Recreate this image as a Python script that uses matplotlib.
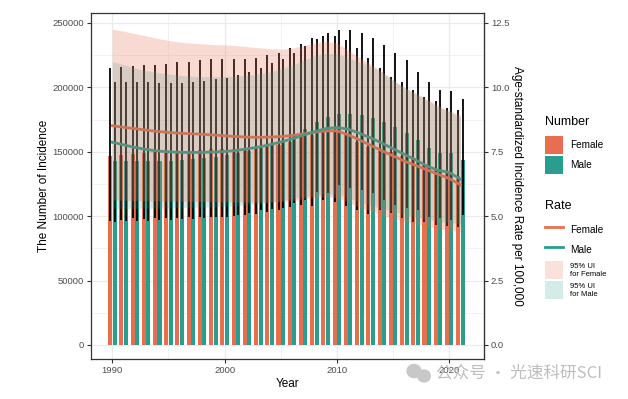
import matplotlib
matplotlib.use("Agg")
import numpy as np
from matplotlib import pyplot as plt
from matplotlib.patches import Patch, Ellipse
from matplotlib.lines import Line2D

plt.rcParams['font.family'] = ['Liberation Sans', 'DejaVu Sans']

# ---- data ----
years = list(range(1990, 2022))

# incidence numbers (bars) with 95% UI (error bars)
female_num = [146700, 147500, 148300, 149300, 150000, 150000, 150500, 150900, 151400, 152000,
              152000, 152400, 153200, 154000, 154700, 155500, 157900, 161700, 163000, 166000,
              167000, 163000, 157400, 153500, 152000, 150000, 146700, 145000, 139800, 135900,
              133300, 131400]
female_num_lo = [96500, 97000, 98300, 97500, 98800, 98800, 98800, 99000, 99000, 99000,
                 99600, 100000, 100700, 102000, 103500, 104800, 107400, 108700, 108000, 112600,
                 111000, 108000, 104800, 102000, 104800, 102500, 98300, 95700, 95700, 93200,
                 92400, 91800]
female_num_hi = [215300, 215800, 216600, 217000, 217400, 218000, 219500, 220000, 221000, 221800,
                 222300, 221800, 221800, 223000, 225000, 227000, 230400, 234000, 238000, 240000,
                 240000, 236500, 230400, 222600, 214800, 208300, 204000, 198000, 192500, 189400,
                 184000, 182500]

male_num = [142900, 142900, 142900, 142900, 142900, 142900, 143600, 144200, 145000, 146200,
            147300, 148800, 150600, 153200, 156600, 159400, 163500, 167700, 172900, 176800,
            179300, 179300, 178600, 176000, 172900, 169500, 164800, 159200, 153200, 149300,
            149300, 143600]
male_num_lo = [95700, 96500, 96500, 96500, 97000, 97000, 97500, 97500, 98300, 99600,
               99600, 101200, 102700, 104800, 105500, 106000, 110500, 112600, 119000, 117800,
               124000, 121600, 120000, 118000, 112600, 108700, 106300, 104800, 99600, 98300,
               97000, 100900]
male_num_hi = [204200, 204000, 204000, 204000, 203400, 203000, 203000, 204000, 205000, 206500,
               207300, 209600, 212000, 215000, 218700, 221800, 226500, 232000, 237300, 242000,
               244300, 244300, 242000, 238000, 232600, 227000, 221000, 212000, 204400, 198000,
               197200, 191000]

# age-standardized incidence rate per 100,000 with 95% UI
female_rate = [8.51, 8.45, 8.40, 8.34, 8.29, 8.25, 8.22, 8.20, 8.18, 8.15,
               8.12, 8.09, 8.07, 8.06, 8.07, 8.09, 8.13, 8.19, 8.26, 8.31,
               8.31, 8.16, 7.96, 7.75, 7.54, 7.34, 7.14, 6.97, 6.80, 6.63,
               6.46, 6.22]
female_rate_lo = [5.63, 5.62, 5.61, 5.60, 5.60, 5.59, 5.58, 5.57, 5.57, 5.56,
                  5.56, 5.55, 5.55, 5.55, 5.55, 5.56, 5.60, 5.66, 5.72, 5.76,
                  5.72, 5.55, 5.35, 5.20, 5.05, 4.92, 4.80, 4.70, 4.60, 4.52,
                  4.45, 4.40]
female_rate_hi = [12.26, 12.18, 12.09, 12.00, 11.90, 11.82, 11.76, 11.72, 11.69, 11.66,
                  11.65, 11.62, 11.58, 11.54, 11.50, 11.48, 11.52, 11.62, 11.72, 11.79,
                  11.72, 11.45, 11.15, 10.90, 10.60, 10.25, 9.98, 9.78, 9.55, 9.30,
                  9.08, 8.93]

male_rate = [7.87, 7.77, 7.67, 7.59, 7.53, 7.50, 7.48, 7.47, 7.48, 7.49,
             7.51, 7.55, 7.61, 7.68, 7.77, 7.88, 8.00, 8.14, 8.28, 8.40,
             8.44, 8.38, 8.22, 8.04, 7.84, 7.62, 7.40, 7.19, 6.95, 6.78,
             6.70, 6.44]
male_rate_lo = [5.30, 5.30, 5.30, 5.31, 5.31, 5.32, 5.33, 5.34, 5.35, 5.36,
                5.38, 5.40, 5.44, 5.48, 5.53, 5.60, 5.68, 5.75, 5.82, 5.86,
                5.85, 5.72, 5.56, 5.42, 5.30, 5.18, 5.08, 4.98, 4.88, 4.80,
                4.75, 4.70]
male_rate_hi = [11.00, 10.88, 10.75, 10.65, 10.58, 10.52, 10.47, 10.43, 10.42, 10.42,
                10.42, 10.44, 10.47, 10.52, 10.60, 10.72, 10.85, 11.05, 11.22, 11.32,
                11.30, 11.15, 10.98, 10.82, 10.60, 10.30, 10.00, 9.75, 9.50, 9.25,
                9.05, 8.86]

scale = 20000  # rate -> number axis
col_f = '#E76F51'
col_m = '#2A9D8F'

yrs = np.array(years)
off, bw = 0.2, 0.36

fig = plt.figure(figsize=(6.28, 3.99), dpi=100)
ax = fig.add_axes([0.1449, 0.1003, 0.6258, 0.8664])

ax.bar(yrs - off, female_num, width=bw, color=col_f, zorder=2)
ax.bar(yrs + off, male_num, width=bw, color=col_m, zorder=2)

ax.vlines(yrs - off, female_num_lo, female_num_hi, color='black', lw=1.3, zorder=3)
ax.vlines(yrs + off, male_num_lo, male_num_hi, color='black', lw=1.3, zorder=3)
# rate error bars left unscaled on the number axis (appear as dots at 0)
ax.vlines(yrs - off, female_rate_lo, female_rate_hi, color='black', lw=1.6, zorder=3)
ax.vlines(yrs + off, male_rate_lo, male_rate_hi, color='black', lw=1.6, zorder=3)

ax.plot(yrs, np.array(female_rate) * scale, color=col_f, lw=2.0, zorder=4)
ax.plot(yrs, np.array(male_rate) * scale, color=col_m, lw=2.0, zorder=4)

ax.fill_between(yrs, np.array(male_rate_lo) * scale, np.array(male_rate_hi) * scale,
                color=col_m, alpha=0.2, lw=0, zorder=5)
ax.fill_between(yrs, np.array(female_rate_lo) * scale, np.array(female_rate_hi) * scale,
                color=col_f, alpha=0.25, lw=0, zorder=5)

ax.set_xlim(1988.1, 2023.1)
ax.set_ylim(-10870, 257500)
ax.set_xticks([1990, 2000, 2010, 2020])
ax.set_xticks([1995, 2005, 2015], minor=True)
ax.set_yticks(np.arange(0, 250001, 50000))
ax.set_yticks(np.arange(25000, 250000, 50000), minor=True)
ax.grid(True, which='major', color='#EBEBEB', lw=0.9, zorder=0)
ax.grid(True, which='minor', color='#EBEBEB', lw=0.45, zorder=0)
ax.set_axisbelow(True)
ax.tick_params(which='major', length=3, width=0.8, color='#333333',
               labelsize=6.8, labelcolor='#4D4D4D', pad=2)
ax.tick_params(which='minor', length=0)
for s in ax.spines.values():
    s.set_color('#333333')
    s.set_linewidth(0.9)
ax.set_xlabel('Year', fontsize=8.5, labelpad=2)
ax.set_ylabel('The Number of Incidence', fontsize=8.5, labelpad=2)

sec = ax.secondary_yaxis('right', functions=(lambda v: v / scale, lambda v: v * scale))
sec.set_yticks([0, 2.5, 5, 7.5, 10, 12.5])
sec.set_yticklabels(['0.0', '2.5', '5.0', '7.5', '10.0', '12.5'])
sec.tick_params(length=3, width=0.8, color='#333333', labelsize=6.8,
                labelcolor='#4D4D4D', pad=2)
sec.spines['right'].set_color('#333333')
sec.set_ylabel('Age-standardized Incidence Rate per 100,000', fontsize=8.5,
               rotation=-90, labelpad=10)

# legends (titles drawn as separate texts for exact spacing)
leg_kw = dict(loc='upper left', frameon=False, fontsize=7.2, handlelength=1.8,
              handleheight=2.4, labelspacing=0.2, borderpad=0, handletextpad=0.75)

fig.text(545 / 628, 1 - 122 / 399, 'Number', fontsize=9, va='center', ha='left')
num_handles = [Patch(color=col_f, lw=0), Patch(color=col_m, lw=0)]
fig.legend(num_handles, ['Female', 'Male'], bbox_to_anchor=(540 / 628, 1 - 131 / 399), **leg_kw)

fig.text(545 / 628, 1 - 206 / 399, 'Rate', fontsize=9, va='center', ha='left')
rate_handles = [Line2D([], [], color=col_f, lw=2), Line2D([], [], color=col_m, lw=2),
                Patch(color=col_f, alpha=0.2, lw=0), Patch(color=col_m, alpha=0.2, lw=0)]
leg2 = fig.legend(rate_handles, ['Female', 'Male', '95% UI\nfor Female', '95% UI\nfor Male'],
                  bbox_to_anchor=(540 / 628, 1 - 216 / 399), **leg_kw)
for t in leg2.get_texts()[2:]:
    t.set_fontsize(5.5)

# watermark
fig.patches.append(Ellipse((414 / 628, 1 - 371 / 399), 0.022, 0.033, transform=fig.transFigure,
                           color='#C8C8C8', zorder=10))
fig.patches.append(Ellipse((424 / 628, 1 - 376 / 399), 0.02, 0.03, transform=fig.transFigure,
                           color='#C8C8C8', zorder=10))
fig.text(436 / 628, 1 - 373 / 399, '公众号 · 光速科研SCI', fontsize=12, color='#BDBDBD',
         va='center', ha='left', family=['Noto Sans CJK SC', 'DejaVu Sans'], zorder=11)

fig.savefig('out.png', dpi=100)
plt.close(fig)
